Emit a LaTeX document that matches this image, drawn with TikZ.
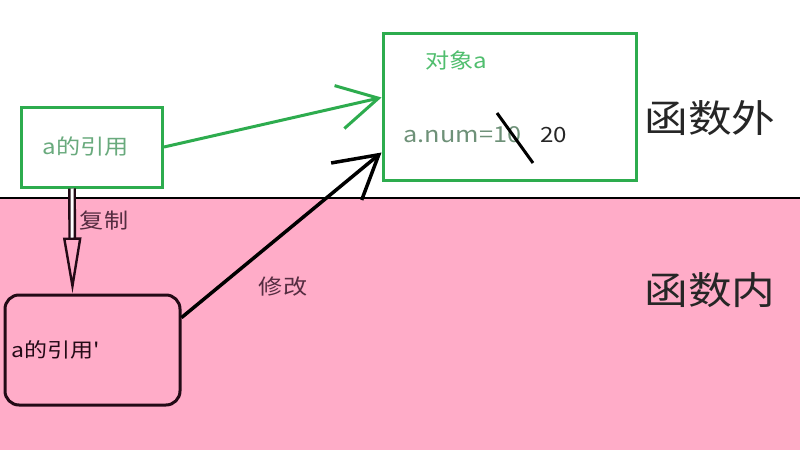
\documentclass[tikz,border=0pt]{standalone}
\usepackage{fontspec}
\setmainfont{Noto Sans CJK SC}[FakeStretch=1.15]
\newfontfamily\plainfont{Noto Sans CJK SC}[FakeStretch=1.15]
\usetikzlibrary{arrows.meta}

\definecolor{boxgreen}{RGB}{45,172,78}
\definecolor{namegreen}{RGB}{80,190,110}
\definecolor{refgreen}{RGB}{105,170,125}
\definecolor{numgray}{RGB}{110,145,120}
\definecolor{insidepink}{RGB}{255,172,200}
\definecolor{darkline}{RGB}{35,10,22}
\definecolor{notecol}{RGB}{85,45,65}

\tikzset{
  greenbox/.style={draw=boxgreen, line width=3pt, fill=white, inner sep=0pt},
  copybox/.style={draw=darkline, line width=3pt, rounded corners=14pt, inner sep=0pt},
  greenarrow/.style={draw=boxgreen, line width=3pt, -{Straight Barb[length=40pt, width=44pt, line width=3pt]}},
  blackarrow/.style={draw=black, line width=3.5pt, -{Straight Barb[length=42pt, width=48pt, line width=3.5pt]}},
  copyarrow/.style={draw=darkline, line width=2.4pt, double=white, double distance=3pt, -{Triangle[open, length=56pt, width=18pt]}},
  sidelabel/.style={font=\fontsize{38}{42}\selectfont, text=black!85},
  notelabel/.style={font=\fontsize{21}{24}\selectfont, text=notecol}
}

\begin{document}
\begin{tikzpicture}[x=1pt, y=-1pt]
  \useasboundingbox (0,0) rectangle (800,450);
  \fill[white] (0,0) rectangle (800,198);
  \fill[insidepink] (0,198) rectangle (800,450);
  \draw[line width=2.5pt] (0,198) -- (800,198);

  % boxes
  \node[greenbox, minimum width=141pt, minimum height=80pt,
    font=\fontsize{21}{24}\selectfont, text=refgreen] (ref) at (92,147) {\hspace*{-12pt}a的引用};
  \node[greenbox, minimum width=253pt, minimum height=147pt] (obj) at (509.5,106.5) {};
  \node[copybox, minimum width=175pt, minimum height=110pt, text width=161pt,
    align=left, font=\fontsize{20}{23}\selectfont, text=darkline] (refcopy) at (92.5,350) {a的引用{\plainfont'}};

  % texts in the object
  \node[font=\fontsize{21}{24}\selectfont, text=namegreen] (objname) at (456,60) {对象a};
  \node[font=\fontsize{22}{25}\selectfont, text=numgray, anchor=west] (numold) at (400,135) {a.num=10};
  \node[font=\fontsize{21}{24}\selectfont, text=black!85, anchor=west] (numnew) at (537,135) {20};
  \draw[line width=3pt] (497,113) -- (533,163);

  % side labels
  \node[sidelabel] (outside) at (710,118) {函数外};
  \node[sidelabel] (inside) at (710,290) {函数内};

  % connectors
  \draw[greenarrow] (ref.east) -- ([yshift=9pt]obj.west);
  \draw[blackarrow] (refcopy.20) -- ([yshift=-46pt]obj.west);
  \draw[copyarrow] ([xshift=-20pt]ref.south) -- ([xshift=-20pt]refcopy.north);
  \node[notelabel] (copylabel) at (104,221) {复制};
  \node[notelabel] (editlabel) at (283,287) {修改};
\end{tikzpicture}
\end{document}
